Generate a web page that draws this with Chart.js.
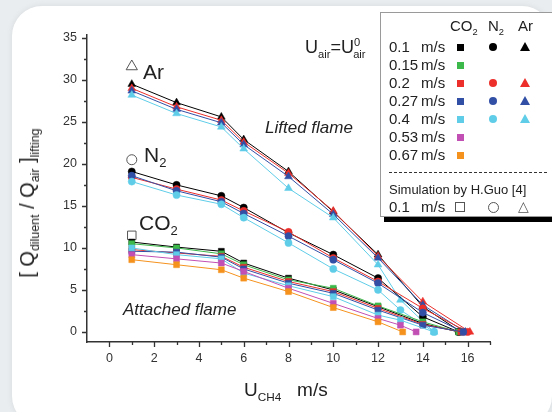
<!DOCTYPE html>
<html>
<head>
<meta charset="utf-8">
<script src="https://cdn.jsdelivr.net/npm/chart.js@4/dist/chart.umd.min.js"></script>
<style>
  html, body { margin: 0; padding: 0; }
  body { width: 552px; height: 412px; background: #e9edf0; position: relative; overflow: hidden;
         font-family: "Liberation Sans", Arial, sans-serif; color: #222; }
  #panel { position: absolute; left: 12px; top: 6px; width: 540px; height: 420px; background: #fff;
           border-radius: 30px; box-shadow: 0 0 6px rgba(0,0,0,0.08); }
  #wrap { position: absolute; left: 0; top: 0; width: 552px; height: 412px; }
  .lbl { position: absolute; white-space: nowrap; line-height: 1; }
  sub, sup { font-size: 62%; line-height: 0; }
  #legend { position: absolute; left: 380px; top: 12px; width: 180px; height: 203px; background: #fff;
            border: 1px solid #9a9a9a; box-shadow: 4px 5px 0 #000; }
  .row { position: absolute; left: 8px; font-size: 15px; line-height: 1; }
  .mk { position: absolute; }
  .sq { width: 7px; height: 7px; }
  .ci { width: 8px; height: 8px; border-radius: 50%; }
  .tr { width: 0; height: 0; border-left: 5px solid transparent; border-right: 5px solid transparent; }
</style>
</head>
<body>
<div id="panel"></div>
<div id="wrap"><canvas id="chart" width="552" height="412"></canvas></div>

<div class="lbl" style="left:143px; top:61px; font-size:21px;">Ar</div>
<div class="lbl" style="left:144px; top:144px; font-size:21px;">N<sub>2</sub></div>
<div class="lbl" style="left:139px; top:212px; font-size:21px;">CO<sub>2</sub></div>
<div class="lbl" style="left:265px; top:119px; font-size:17px; font-style:italic;">Lifted flame</div>
<div class="lbl" style="left:123px; top:301px; font-size:17px; font-style:italic;">Attached flame</div>
<div class="lbl" style="left:305px; top:38px; font-size:18px;">U<sub>air</sub>=U<sup>0</sup><sub style="margin-left:-7px">air</sub></div>
<div class="lbl" style="left:244px; top:380px; font-size:19px;">U<sub>CH4</sub>&nbsp;&nbsp; m/s</div>
<div class="lbl" style="left:27px; top:203px; font-size:20px; transform: translate(-50%,-50%) rotate(-90deg);">[ Q<sub>diluent</sub> / Q<sub>air</sub> ]<sub>lifting</sub></div>

<div id="legend"></div>

<script>
// measured lifting ratio, x = U_CH4 (m/s)
const co2_01_x  = [1, 3, 5, 6, 8, 10, 12, 14, 15.6];
const co2_01_y  = [10.7, 10.1, 9.6, 8.2, 6.4, 5.0, 3.0, 1.0, 0];
const co2_015_x = [1, 3, 5, 6, 8, 10, 12, 14, 15.6];
const co2_015_y = [10.5, 10.0, 9.3, 8.0, 6.2, 5.2, 3.1, 1.2, 0];
const co2_02_x  = [1, 3, 5, 6, 8, 10, 12, 14, 15.7];
const co2_02_y  = [9.8, 9.4, 9.0, 7.7, 6.0, 4.8, 2.8, 0.9, 0];
const co2_027_x = [1, 3, 5, 6, 8, 10, 12, 14, 15.8];
const co2_027_y = [9.6, 9.5, 8.9, 7.5, 5.8, 4.6, 2.6, 0.8, 0];
const co2_04_x  = [1, 3, 5, 6, 8, 10, 12, 13, 14.5];
const co2_04_y  = [10.0, 9.2, 8.7, 7.0, 5.5, 4.2, 2.0, 1.4, 0];
const co2_053_x = [1, 3, 5, 6, 8, 10, 12, 13, 13.7];
const co2_053_y = [9.2, 8.7, 8.2, 7.2, 5.2, 3.4, 1.6, 0.8, 0];
const co2_067_x = [1, 3, 5, 6, 8, 10, 12, 13.1];
const co2_067_y = [8.6, 8.0, 7.4, 6.4, 4.8, 2.9, 1.2, 0];

const n2_01_x  = [1, 3, 5, 6, 8, 10, 12, 14, 15.6];
const n2_01_y  = [19.1, 17.5, 16.2, 14.8, 11.8, 9.2, 6.4, 1.8, 0];
const n2_02_x  = [1, 3, 5, 6, 8, 10, 12, 14, 16.0];
const n2_02_y  = [18.4, 17.0, 15.7, 14.4, 11.9, 8.8, 6.0, 2.8, 0];
const n2_027_x = [1, 3, 5, 6, 8, 10, 12, 14, 15.8];
const n2_027_y = [18.6, 16.8, 15.5, 14.1, 11.4, 8.6, 5.8, 2.3, 0];
const n2_04_x  = [1, 3, 5, 6, 8, 10, 12, 13, 14.5];
const n2_04_y  = [17.9, 16.3, 15.2, 13.6, 10.6, 7.5, 5.0, 2.6, 0];

const ar_01_x  = [1, 3, 5, 6, 8, 10, 12, 14, 15.7];
const ar_01_y  = [29.5, 27.3, 25.6, 22.9, 19.1, 14.3, 9.2, 3.0, 0];
const ar_02_x  = [1, 3, 5, 6, 8, 10, 12, 14, 16.1];
const ar_02_y  = [29.0, 26.8, 25.2, 22.6, 18.9, 14.4, 9.0, 3.6, 0];
const ar_027_x = [1, 3, 5, 6, 8, 10, 12, 14, 15.9];
const ar_027_y = [28.7, 26.5, 24.9, 22.3, 18.5, 14.0, 8.8, 3.2, 0];
const ar_04_x  = [1, 3, 5, 6, 8, 10, 12, 13, 14.5];
const ar_04_y  = [28.2, 26.0, 24.4, 21.8, 17.1, 13.6, 8.0, 3.8, 0];

// Simulation by H.Guo, 0.1 m/s
const sim_x = [1];
const sim_co2 = [11.5];
const sim_n2 = [20.5];
const sim_ar = [31.6];

const xTicks = [0, 2, 4, 6, 8, 10, 12, 14, 16];
const yTicks = [0, 5, 10, 15, 20, 25, 30, 35];
const speeds = ['0.1', '0.15', '0.2', '0.27', '0.4', '0.53', '0.67'];

const col = {
  '0.1': '#000000', '0.15': '#3db84a', '0.2': '#ec2f2a', '0.27': '#324fa6',
  '0.4': '#5fcde8', '0.53': '#c24fb4', '0.67': '#f5921e'
};

const pts = (xs, ys) => xs.map((x, i) => ({ x: x, y: ys[i] }));

function series(xs, ys, speed, shape) {
  const c = col[speed];
  return {
    data: pts(xs, ys), borderColor: c, backgroundColor: c, borderWidth: 1,
    pointStyle: shape, pointRadius: shape === 'triangle' ? 4.5 : (shape === 'rect' ? 4.2 : 3.6),
    pointBorderWidth: 0.5, pointBorderColor: c, tension: 0
  };
}

function sim(ys, shape) {
  return {
    data: pts(sim_x, ys), showLine: false, pointStyle: shape,
    pointRadius: shape === 'rect' ? 6 : (shape === 'triangle' ? 6.5 : 5), pointBorderWidth: 1,
    pointBorderColor: '#555', pointBackgroundColor: '#fff', borderColor: '#555'
  };
}

const datasets = [
  series(co2_067_x, co2_067_y, '0.67', 'rect'),
  series(co2_053_x, co2_053_y, '0.53', 'rect'),
  series(co2_04_x, co2_04_y, '0.4', 'rect'),
  series(co2_027_x, co2_027_y, '0.27', 'rect'),
  series(co2_02_x, co2_02_y, '0.2', 'rect'),
  series(co2_015_x, co2_015_y, '0.15', 'rect'),
  series(co2_01_x, co2_01_y, '0.1', 'rect'),
  series(n2_04_x, n2_04_y, '0.4', 'circle'),
  series(n2_027_x, n2_027_y, '0.27', 'circle'),
  series(n2_02_x, n2_02_y, '0.2', 'circle'),
  series(n2_01_x, n2_01_y, '0.1', 'circle'),
  series(ar_04_x, ar_04_y, '0.4', 'triangle'),
  series(ar_027_x, ar_027_y, '0.27', 'triangle'),
  series(ar_02_x, ar_02_y, '0.2', 'triangle'),
  series(ar_01_x, ar_01_y, '0.1', 'triangle'),
  sim(sim_co2, 'rect'),
  sim(sim_n2, 'circle'),
  sim(sim_ar, 'triangle')
];

// minor + major tick marks drawn outward
const tickMarks = {
  id: 'tickMarks',
  afterDraw(chart) {
    const ctx = chart.ctx, xs = chart.scales.x, ys = chart.scales.y;
    ctx.save();
    ctx.strokeStyle = '#333';
    ctx.lineWidth = 1.3;
    ctx.beginPath();
    for (let v = 0; v <= 17; v++) {
      const px = Math.round(xs.getPixelForValue(v)) + 0.5;
      const len = xTicks.includes(v) ? 5 : 3;
      ctx.moveTo(px, ys.bottom);
      ctx.lineTo(px, ys.bottom + len);
    }
    for (let v = 0; v <= 35; v += 2.5) {
      const py = Math.round(ys.getPixelForValue(v)) + 0.5;
      const len = yTicks.includes(v) ? 5 : 3;
      ctx.moveTo(xs.left, py);
      ctx.lineTo(xs.left - len, py);
    }
    ctx.stroke();
    ctx.restore();
  }
};

const tickFont = { family: '"Liberation Sans", Arial, sans-serif', size: 12.5 };

new Chart(document.getElementById('chart'), {
  type: 'scatter',
  data: { datasets: datasets },
  plugins: [tickMarks],
  options: {
    responsive: false,
    animation: false,
    showLine: true,
    layout: { padding: { left: 0, top: 35, right: 62, bottom: 0 } },
    plugins: { legend: { display: false }, tooltip: { enabled: false } },
    scales: {
      x: {
        type: 'linear', min: -1, max: 17,
        grid: { display: false, drawTicks: false },
        border: { display: true, color: '#333', width: 1.5 },
        ticks: { padding: 9, color: '#333', font: tickFont },
        afterBuildTicks(s) { s.ticks = xTicks.map(v => ({ value: v })); },
        afterFit(s) { s.height = 70; }
      },
      y: {
        type: 'linear', min: -1.2, max: 35.35,
        grid: { display: false, drawTicks: false },
        border: { display: true, color: '#333', width: 1.5 },
        ticks: { padding: 10, color: '#333', font: tickFont },
        afterBuildTicks(s) { s.ticks = yTicks.map(v => ({ value: v })); },
        afterFit(s) { s.width = 87; }
      }
    }
  }
});

// legend table (HTML)
const legend = document.getElementById('legend');
const colX = { co2: 79, n2: 112, ar: 144 };
const rows = [
  { s: '0.1', m: ['co2', 'n2', 'ar'] },
  { s: '0.15', m: ['co2'] },
  { s: '0.2', m: ['co2', 'n2', 'ar'] },
  { s: '0.27', m: ['co2', 'n2', 'ar'] },
  { s: '0.4', m: ['co2', 'n2', 'ar'] },
  { s: '0.53', m: ['co2'] },
  { s: '0.67', m: ['co2'] }
];

function marker(kind, cx, cy, color, open) {
  const d = document.createElement('div');
  d.className = 'mk';
  if (kind === 'co2') {
    d.classList.add('sq');
    d.style.left = (cx - 3.5) + 'px'; d.style.top = (cy - 3.5) + 'px';
    if (open) { d.style.border = '1px solid #555'; d.style.width = '8px'; d.style.height = '8px'; d.style.left = (cx - 5) + 'px'; d.style.top = (cy - 5) + 'px'; }
    else d.style.background = color;
  } else if (kind === 'n2') {
    d.classList.add('ci');
    d.style.left = (cx - 4) + 'px'; d.style.top = (cy - 4) + 'px';
    if (open) { d.style.border = '1px solid #555'; d.style.width = '9px'; d.style.height = '9px'; d.style.left = (cx - 5.5) + 'px'; d.style.top = (cy - 5.5) + 'px'; }
    else d.style.background = color;
  } else {
    if (open) {
      d.innerHTML = '&#9651;';
      d.style.fontSize = '14px'; d.style.color = '#555'; d.style.lineHeight = '1';
      d.style.left = (cx - 7) + 'px'; d.style.top = (cy - 8) + 'px';
    } else {
      d.classList.add('tr');
      d.style.borderBottom = '9px solid ' + color;
      d.style.left = (cx - 5) + 'px'; d.style.top = (cy - 5) + 'px';
    }
  }
  legend.appendChild(d);
}

function hdr(html, left) {
  const h = document.createElement('div');
  h.className = 'row'; h.style.left = left + 'px'; h.style.top = '5px'; h.innerHTML = html;
  legend.appendChild(h);
}
hdr('CO<sub>2</sub>', 69);
hdr('N<sub>2</sub>', 107);
hdr('Ar', 137);

rows.forEach((r, i) => {
  const cy = 34 + i * 18;
  const t = document.createElement('div');
  t.className = 'row';
  t.style.top = (cy - 8) + 'px';
  t.innerHTML = '<span style="display:inline-block;width:32px">' + r.s + '</span>m/s';
  legend.appendChild(t);
  r.m.forEach(k => marker(k, colX[k], cy, col[r.s], false));
});

const dash = document.createElement('div');
dash.style.cssText = 'position:absolute;left:8px;top:159px;width:158px;border-top:1.3px dashed #333;';
legend.appendChild(dash);

const simT = document.createElement('div');
simT.className = 'row'; simT.style.fontSize = '13px'; simT.style.top = '170px';
simT.textContent = 'Simulation by H.Guo [4]';
legend.appendChild(simT);

const simR = document.createElement('div');
simR.className = 'row'; simR.style.top = '186px';
simR.innerHTML = '<span style="display:inline-block;width:32px">0.1</span>m/s';
legend.appendChild(simR);
['co2', 'n2', 'ar'].forEach(k => marker(k, colX[k], 194, '#555', true));
</script>
</body>
</html>
